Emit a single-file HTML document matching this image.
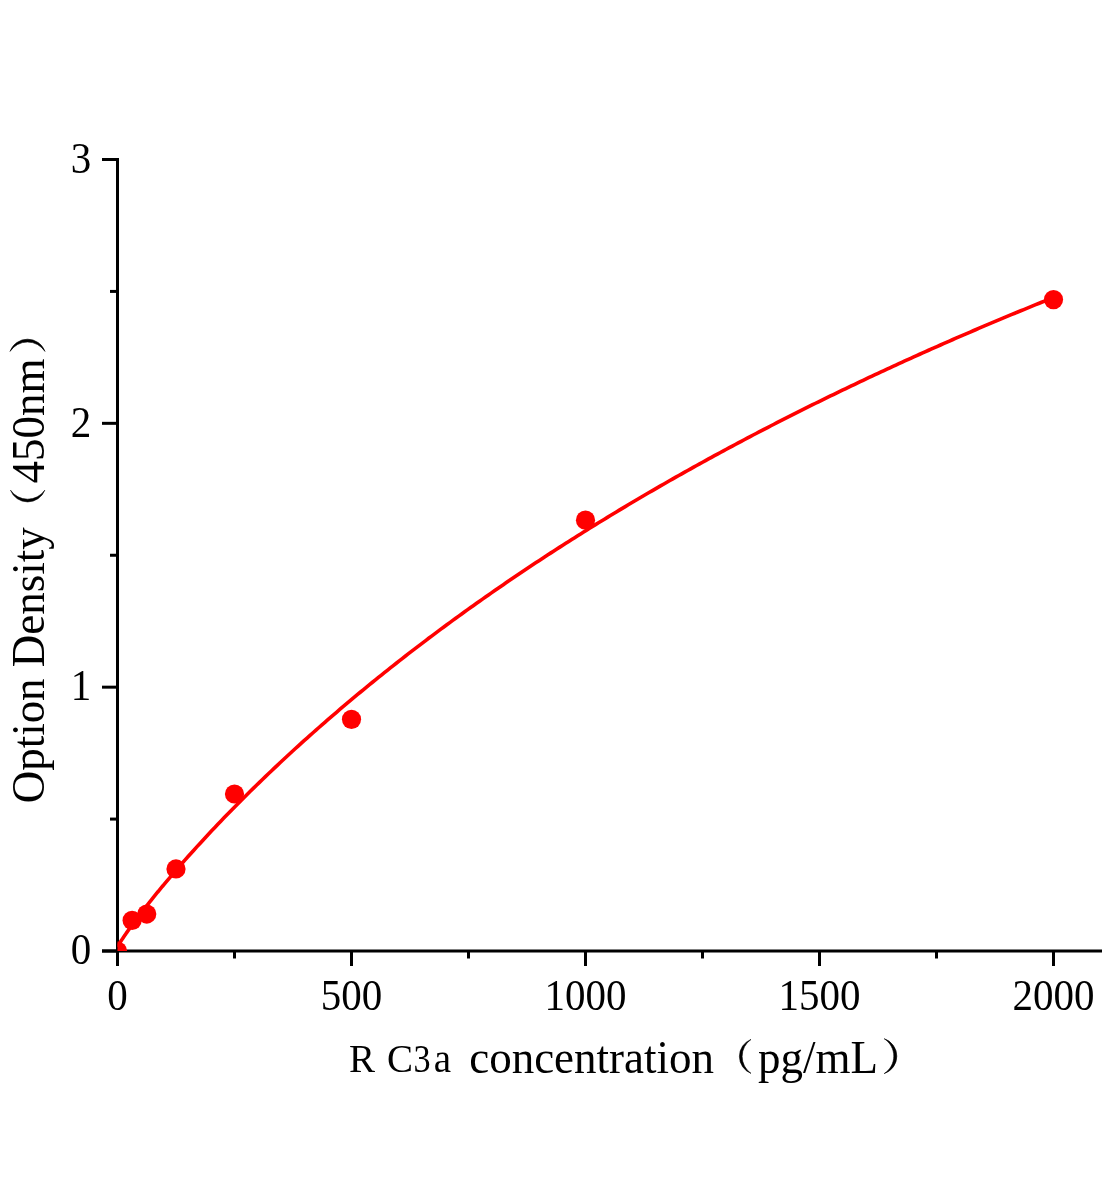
<!DOCTYPE html>
<html><head><meta charset="utf-8"><style>
html,body{margin:0;padding:0;background:#fff;}
svg{display:block;will-change:transform;}
text{font-family:"Liberation Serif",serif;fill:#000;}
</style></head><body>
<svg width="1104" height="1200" viewBox="0 0 1104 1200">
<rect width="1104" height="1200" fill="#fff"/>
<defs><clipPath id="pa"><rect x="117.5" y="0" width="990" height="951"/></clipPath></defs>
<g stroke="#000" stroke-width="3" stroke-linecap="butt">
<line x1="117.5" y1="158" x2="117.5" y2="966"/>
<line x1="102" y1="951" x2="1102" y2="951"/>
<line x1="102" y1="951.00" x2="117.5" y2="951.00"/>
<line x1="102" y1="687.17" x2="117.5" y2="687.17"/>
<line x1="102" y1="423.33" x2="117.5" y2="423.33"/>
<line x1="102" y1="159.50" x2="117.5" y2="159.50"/>
<line x1="110" y1="819.08" x2="117.5" y2="819.08"/>
<line x1="110" y1="555.25" x2="117.5" y2="555.25"/>
<line x1="110" y1="291.42" x2="117.5" y2="291.42"/>
<line x1="117.50" y1="951" x2="117.50" y2="966"/>
<line x1="351.50" y1="951" x2="351.50" y2="966"/>
<line x1="585.50" y1="951" x2="585.50" y2="966"/>
<line x1="819.50" y1="951" x2="819.50" y2="966"/>
<line x1="1053.50" y1="951" x2="1053.50" y2="966"/>
<line x1="234.50" y1="951" x2="234.50" y2="958.5"/>
<line x1="468.50" y1="951" x2="468.50" y2="958.5"/>
<line x1="702.50" y1="951" x2="702.50" y2="958.5"/>
<line x1="936.50" y1="951" x2="936.50" y2="958.5"/>
</g>
<g clip-path="url(#pa)">
<polyline points="117.50,946.97 118.29,945.46 119.09,944.11 119.88,942.82 120.67,941.56 121.47,940.32 122.26,939.11 123.05,937.91 123.85,936.73 124.64,935.56 125.43,934.40 126.23,933.25 127.02,932.12 127.81,930.99 128.61,929.87 129.40,928.75 130.19,927.64 130.98,926.54 131.78,925.45 132.57,924.36 133.36,923.28 134.16,922.20 134.95,921.13 135.74,920.07 136.54,919.01 137.33,917.95 138.12,916.90 138.92,915.85 139.71,914.81 140.50,913.77 141.30,912.73 142.09,911.70 142.88,910.67 143.68,909.65 144.47,908.63 145.26,907.61 146.06,906.60 146.85,905.58 147.64,904.58 148.44,903.57 149.23,902.57 150.02,901.58 150.82,900.58 151.61,899.59 152.40,898.60 153.19,897.61 153.99,896.63 154.78,895.65 155.57,894.67 156.37,893.70 157.16,892.73 157.95,891.76 158.75,890.79 159.54,889.83 160.33,888.86 161.13,887.90 161.92,886.95 162.71,885.99 163.51,885.04 164.30,884.09 167.27,880.55 170.25,877.04 173.22,873.56 176.20,870.10 179.17,866.68 182.14,863.28 185.12,859.91 188.09,856.56 191.07,853.24 194.04,849.94 197.01,846.66 199.99,843.41 202.96,840.17 205.93,836.96 208.91,833.77 211.88,830.60 214.86,827.45 217.83,824.32 220.80,821.21 223.78,818.12 226.75,815.04 229.73,811.99 232.70,808.95 235.67,805.93 238.65,802.92 241.62,799.94 244.60,796.96 247.57,794.01 250.54,791.07 253.52,788.15 256.49,785.24 259.47,782.35 262.44,779.48 265.41,776.62 268.39,773.77 271.36,770.94 274.33,768.12 277.31,765.32 280.28,762.53 283.26,759.76 286.23,757.00 289.20,754.25 292.18,751.51 295.15,748.79 298.13,746.08 301.10,743.39 304.07,740.71 307.05,738.04 310.02,735.38 313.00,732.74 315.97,730.10 318.94,727.48 321.92,724.87 324.89,722.28 327.87,719.69 330.84,717.12 333.81,714.56 336.79,712.01 339.76,709.47 342.73,706.94 345.71,704.42 348.68,701.92 351.66,699.42 354.63,696.94 357.60,694.46 360.58,692.00 363.55,689.55 366.53,687.10 369.50,684.67 372.47,682.25 375.45,679.84 378.42,677.44 381.40,675.04 384.37,672.66 387.34,670.29 390.32,667.93 393.29,665.58 396.27,663.23 399.24,660.90 402.21,658.57 405.19,656.26 408.16,653.95 411.13,651.66 414.11,649.37 417.08,647.09 420.06,644.82 423.03,642.56 426.00,640.31 428.98,638.06 431.95,635.83 434.93,633.60 437.90,631.38 440.87,629.17 443.85,626.97 446.82,624.78 449.80,622.60 452.77,620.42 455.74,618.25 458.72,616.09 461.69,613.94 464.67,611.80 467.64,609.66 470.61,607.53 473.59,605.42 476.56,603.30 479.53,601.20 482.51,599.10 485.48,597.01 488.46,594.93 491.43,592.86 494.40,590.79 497.38,588.73 500.35,586.68 503.33,584.64 506.30,582.60 509.27,580.57 512.25,578.55 515.22,576.53 518.20,574.52 521.17,572.52 524.14,570.53 527.12,568.54 530.09,566.56 533.07,564.58 536.04,562.62 539.01,560.66 541.99,558.70 544.96,556.76 547.93,554.82 550.91,552.88 553.88,550.96 556.86,549.04 559.83,547.12 562.80,545.22 565.78,543.31 568.75,541.42 571.73,539.53 574.70,537.65 577.67,535.77 580.65,533.91 583.62,532.04 586.60,530.18 589.57,528.33 592.54,526.49 595.52,524.65 598.49,522.82 601.47,520.99 604.44,519.17 607.41,517.35 610.39,515.55 613.36,513.74 616.33,511.95 619.31,510.15 622.28,508.37 625.26,506.59 628.23,504.81 631.20,503.04 634.18,501.28 637.15,499.52 640.13,497.77 643.10,496.02 646.07,494.28 649.05,492.55 652.02,490.82 655.00,489.09 657.97,487.37 660.94,485.66 663.92,483.95 666.89,482.25 669.87,480.55 672.84,478.86 675.81,477.17 678.79,475.49 681.76,473.81 684.73,472.14 687.71,470.47 690.68,468.81 693.66,467.15 696.63,465.50 699.60,463.85 702.58,462.21 705.55,460.57 708.53,458.94 711.50,457.31 714.47,455.69 717.45,454.07 720.42,452.46 723.40,450.85 726.37,449.25 729.34,447.65 732.32,446.06 735.29,444.47 738.27,442.88 741.24,441.30 744.21,439.73 747.19,438.16 750.16,436.59 753.13,435.03 756.11,433.47 759.08,431.92 762.06,430.37 765.03,428.83 768.00,427.29 770.98,425.76 773.95,424.23 776.93,422.70 779.90,421.18 782.87,419.66 785.85,418.15 788.82,416.64 791.80,415.14 794.77,413.64 797.74,412.14 800.72,410.65 803.69,409.16 806.67,407.68 809.64,406.20 812.61,404.73 815.59,403.26 818.56,401.79 821.53,400.33 824.51,398.87 827.48,397.41 830.46,395.96 833.43,394.52 836.40,393.08 839.38,391.64 842.35,390.20 845.33,388.77 848.30,387.35 851.27,385.92 854.25,384.51 857.22,383.09 860.20,381.68 863.17,380.27 866.14,378.87 869.12,377.47 872.09,376.07 875.07,374.68 878.04,373.29 881.01,371.91 883.99,370.53 886.96,369.15 889.93,367.78 892.91,366.41 895.88,365.04 898.86,363.68 901.83,362.32 904.80,360.97 907.78,359.61 910.75,358.27 913.73,356.92 916.70,355.58 919.67,354.24 922.65,352.91 925.62,351.58 928.60,350.25 931.57,348.93 934.54,347.61 937.52,346.29 940.49,344.98 943.47,343.67 946.44,342.36 949.41,341.06 952.39,339.76 955.36,338.46 958.33,337.17 961.31,335.88 964.28,334.59 967.26,333.31 970.23,332.03 973.20,330.75 976.18,329.48 979.15,328.21 982.13,326.94 985.10,325.68 988.07,324.42 991.05,323.16 994.02,321.91 997.00,320.66 999.97,319.41 1002.94,318.17 1005.92,316.92 1008.89,315.69 1011.87,314.45 1014.84,313.22 1017.81,311.99 1020.79,310.76 1023.76,309.54 1026.73,308.32 1029.71,307.10 1032.68,305.89 1035.66,304.68 1038.63,303.47 1041.60,302.26 1044.58,301.06 1047.55,299.86 1050.53,298.67 1053.50,297.47" fill="none" stroke="#f00" stroke-width="3.6" stroke-linejoin="round"/>
<g fill="#f00">
<circle cx="117.50" cy="951.00" r="9.6"/>
<circle cx="132.12" cy="920.40" r="9.6"/>
<circle cx="146.75" cy="914.06" r="9.6"/>
<circle cx="176.00" cy="868.95" r="9.6"/>
<circle cx="234.50" cy="794.02" r="9.6"/>
<circle cx="351.50" cy="719.35" r="9.6"/>
<circle cx="585.50" cy="520.16" r="9.6"/>
<circle cx="1053.50" cy="299.60" r="9.6"/>
</g>
</g>
<g font-size="41">
<text transform="translate(91.20,964.20) scale(1,1.08)" text-anchor="end">0</text>
<text transform="translate(91.20,700.37) scale(1,1.08)" text-anchor="end">1</text>
<text transform="translate(91.20,436.53) scale(1,1.08)" text-anchor="end">2</text>
<text transform="translate(91.20,172.70) scale(1,1.08)" text-anchor="end">3</text>
<text transform="translate(117.50,1009.80) scale(1,1.08)" text-anchor="middle">0</text>
<text transform="translate(351.50,1009.80) scale(1,1.08)" text-anchor="middle">500</text>
<text transform="translate(585.50,1009.80) scale(1,1.08)" text-anchor="middle">1000</text>
<text transform="translate(819.50,1009.80) scale(1,1.08)" text-anchor="middle">1500</text>
<text transform="translate(1053.50,1009.80) scale(1,1.08)" text-anchor="middle">2000</text>
</g>
<g font-size="39"><text x="349.1" y="1071.7">R</text><text x="386.9" y="1071.7">C</text><text transform="translate(413.5,1071.7) scale(0.875,1)">3</text><text x="433.8" y="1071.7">a</text></g>
<text transform="translate(469.2,1072.8) scale(1,1.04)" font-size="45">concentration</text>
<text transform="translate(758.1,1072.6) scale(1,1.04)" font-size="45">pg/mL</text>
<g transform="translate(44,803.35) rotate(-90) scale(1,1.05)"><text x="0" y="0" font-size="45">Option Density</text></g>
<g transform="translate(44,483.4) rotate(-90) scale(1,1.05)"><text x="0" y="0" font-size="45">450nm</text></g>
<g fill="#000" stroke="#000" stroke-width="0.6" stroke-linejoin="round">
<path d="M751.00,1039.40 A18.26,18.26 0 0 0 751.00,1073.40 A20.69,20.69 0 0 1 751.00,1039.40 Z"/>
<path d="M884.20,1038.70 A18.38,18.38 0 0 1 884.20,1073.60 A20.66,20.66 0 0 0 884.20,1038.70 Z"/>
<path d="M10.50,490.20 A18.42,18.42 0 0 0 44.80,490.20 A20.84,20.84 0 0 1 10.50,490.20 Z"/>
<path d="M10.00,351.40 A18.65,18.65 0 0 1 45.00,351.40 A20.99,20.99 0 0 0 10.00,351.40 Z"/>
</g>
</svg>
</body></html>
